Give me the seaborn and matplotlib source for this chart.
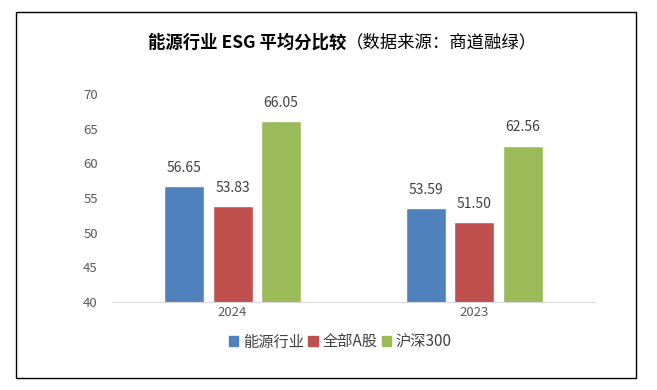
import pandas as pd
import matplotlib.pyplot as plt
import seaborn as sns
from matplotlib.patches import Rectangle

# 数据
years = ['2024', '2023']
series = ['能源行业', '全部A股', '沪深300']
energy = [56.65, 53.59]
all_a = [53.83, 51.50]
hs300 = [66.05, 62.56]
colors = ['#4F81BD', '#C0504D', '#9BBB59']

df = pd.DataFrame({
    'year': years * 3,
    'group': [s for s in series for _ in years],
    'score': energy + all_a + hs300,
})

sns.set_style('white')
plt.rcParams['font.family'] = ['Noto Sans CJK SC', 'DejaVu Sans']

fig = plt.figure(figsize=(6.57, 3.9), dpi=100)
ax = fig.add_axes([0.170, 0.226, 0.736, 0.533])

sns.barplot(data=df, x='year', y='score', hue='group', hue_order=series,
            palette=colors, saturation=1, width=0.6, gap=0.17, ax=ax, legend=False)

# 数据标签
for cont in ax.containers:
    ax.bar_label(cont, fmt='%.2f', padding=8, fontsize=10, color='#404040')

ax.set_ylim(40, 70)
ax.set_yticks(range(40, 71, 5))
ax.set_xlabel('')
ax.set_ylabel('')
ax.tick_params(axis='both', labelsize=9.5, colors='#595959', length=0)
ax.tick_params(axis='x', pad=3)
ax.tick_params(axis='y', pad=10)
for s in ['top', 'right', 'left']:
    ax.spines[s].set_visible(False)
ax.spines['bottom'].set_color('#D9D9D9')

# 标题（粗体 + 常规）
fig.text(0.527, 0.892, '能源行业 ESG 平均分比较', ha='right', va='center',
         fontsize=12.5, fontweight='bold', color='black')
fig.text(0.527, 0.892, '（数据来源：商道融绿）', ha='left', va='center',
         fontsize=12.5, color='black')

# 图例
handles = [Rectangle((0, 0), 1, 1, color=c) for c in colors]
fig.legend(handles, series, loc='center', bbox_to_anchor=(0.518, 0.123), ncol=3,
           frameon=False, fontsize=11, handlelength=0.6, handleheight=0.6,
           handletextpad=0.3, columnspacing=0.3, labelcolor='#404040')

# 外框
fig.patches.append(Rectangle((16 / 657, 12 / 390), 620 / 657, 366 / 390,
                             transform=fig.transFigure, fill=False,
                             edgecolor='black', linewidth=1))

fig.savefig('out.png', dpi=100)
